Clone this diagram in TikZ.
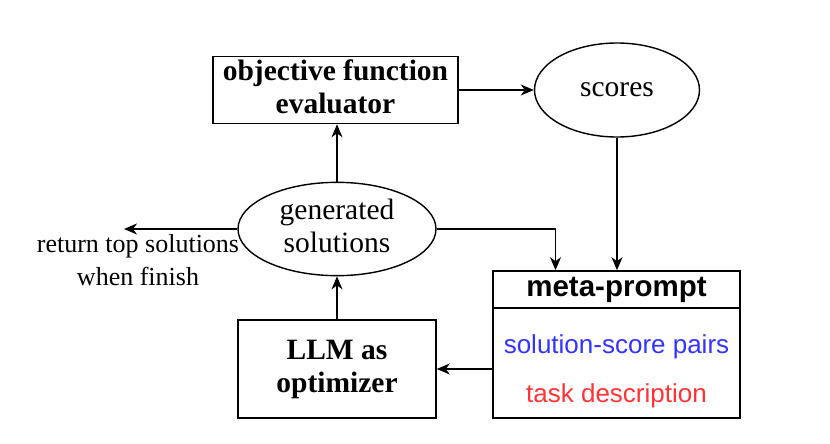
\documentclass[tikz,border=0pt]{standalone}
\usepackage{fontspec}
\setmainfont{Liberation Serif}
\setsansfont{Liberation Sans}
\usetikzlibrary{arrows.meta,shapes,positioning}
\definecolor{pairblue}{RGB}{51,51,255}
\definecolor{taskred}{RGB}{255,51,51}

\begin{document}
\begin{tikzpicture}[x=1pt,y=-1pt,
    box/.style={draw, line width=1.6pt, inner sep=0pt},
    oval/.style={draw, ellipse, line width=1.4pt, inner sep=0pt},
    arr/.style={-{Stealth[length=13pt,width=11pt,inset=4pt]}, line width=1.5pt},
    big/.style={font=\fontsize{29.5}{33}\selectfont},
    small/.style={font=\fontsize{26}{33}\selectfont}]
  \useasboundingbox (0,0) rectangle (830,444);

  \node[box, big, minimum width=245pt, minimum height=67pt] (obj) at (335.5,90) {
      \begin{tabular}{c}
          \bfseries objective function\\
          \bfseries evaluator
      \end{tabular}
  };
  \node[oval, big, minimum width=165pt, minimum height=94pt] (scores) at (617,90) {scores};
  \node[oval, big, minimum width=198pt, minimum height=84pt] (gen) at (337,229) {
      \begin{tabular}{c}
          generated\\
          solutions
      \end{tabular}
  };
  \node[box, big, minimum width=198pt, minimum height=98pt] (llm) at (337,369) {
      \begin{tabular}{c}
          \bfseries LLM as\\
          \bfseries optimizer
      \end{tabular}
  };

  % meta-prompt: header plus body
  \node[box, big, minimum width=247pt, minimum height=37pt] (mphead) at (616.5,289.5) {\sffamily\bfseries meta-prompt};
  \node[box, minimum width=247pt, minimum height=110pt] (mpbody) at (616.5,363) {};
  \node[small, text=pairblue, anchor=base] (pairs) at (616.5,353) {\sffamily solution-score pairs};
  \node[small, text=taskred, anchor=base] (task) at (616.5,402) {\sffamily task description};

  \coordinate (ret) at (124,229);
  \node[small] (retlabel) at (138,262) {
      \begin{tabular}{c}
          return top solutions\\
          when finish
      \end{tabular}
  };

  \draw[arr] (obj.east) -- (scores.west);
  \draw[arr] (scores.south) -- (scores.south |- mphead.north);
  \draw[arr] (gen.east) -| ([xshift=-61pt]mphead.north);
  \draw[arr] (gen.north) -- (gen.north |- obj.south);
  \draw[arr] (llm.north) -- (gen.south);
  \draw[arr] (llm.east -| mpbody.west) -- (llm.east);
  \draw[arr] (gen.west) -- (ret);
\end{tikzpicture}
\end{document}
